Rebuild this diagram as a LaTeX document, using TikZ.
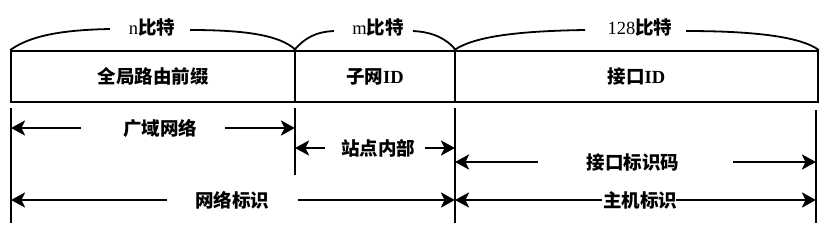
\documentclass[tikz,border=0pt]{standalone}
\usepackage{fontspec}
\setmainfont{Liberation Serif}
\newfontfamily\cjk{Noto Sans CJK SC}
\usetikzlibrary{arrows.meta, positioning}
\newcommand{\zh}[1]{{\cjk\bfseries #1}}
\tikzset{
  field/.style={
    draw, line width=1.8pt, inner sep=0pt,
    minimum height=51pt, font=\fontsize{18.5}{20}\selectfont
  },
  lab/.style={inner sep=0pt, font=\fontsize{18.5}{20}\selectfont},
  brace/.style={line width=1.8pt},
  bar/.style={line width=2.6pt},
  dim/.style={-{Stealth[length=14pt,width=15pt,inset=3.5pt]}, line width=2.6pt},
}

\begin{document}
\begin{tikzpicture}[x=1pt, y=-1pt]
  \useasboundingbox (0,0) rectangle (838,239);

  % ============ ADDRESS FIELDS ============
  \node[field, minimum width=284pt] (prefix) at (153,76.5) {\zh{全局路由前缀}};
  \node[field, minimum width=160pt] (subnet) at (375,76.5) {\zh{子网}\textbf{ID}};
  \node[field, minimum width=363pt] (iface)  at (636.5,76.5) {\zh{接口}\textbf{ID}};

  % ============ BIT WIDTHS (braces) ============
  \node[lab] (nbit)   at (152,27) {n\zh{比特}};
  \node[lab] (mbit)   at (378,27) {m\zh{比特}};
  \node[lab] (allbit) at (640,27) {128\zh{比特}};

  \draw[brace] (prefix.north west) .. controls (30,36) and (60,30) .. (110,29);
  \draw[brace] (190,30) .. controls (245,30) and (280,35) .. (prefix.north east);
  \draw[brace] (subnet.north west) .. controls (305,38) and (315,32) .. (334,31);
  \draw[brace] (413,31) .. controls (432,32) and (446,38) .. (subnet.north east);
  \draw[brace] (iface.north west) .. controls (475,36) and (520,31) .. (585,30);
  \draw[brace] (686,31) .. controls (750,31) and (800,36) .. (iface.north east);

  % ============ BOUNDARY BARS ============
  \coordinate (b0t) at (11,108);  \coordinate (b0b) at (11,223);
  \coordinate (b1t) at (295,108); \coordinate (b1b) at (295,175);
  \coordinate (b2t) at (455,108); \coordinate (b2b) at (455,223);
  \coordinate (b3t) at (816,110); \coordinate (b3b) at (816,223);
  \foreach \a/\b in {b0t/b0b, b1t/b1b, b2t/b2b, b3t/b3b} {
    \draw[bar] (\a) -- (\b);
  }

  % ============ SCOPES (arrows) ============
  \node[lab] (wan)  at (160,128) {\zh{广域网络}};
  \node[lab] (site) at (378,148) {\zh{站点内部}};
  \node[lab] (ifc)  at (633,162) {\zh{接口标识码}};
  \node[lab] (net)  at (232,200) {\zh{网络标识}};
  \node[lab] (host) at (640,200) {\zh{主机标识}};

  % free ends of the arrow shafts
  \coordinate (wanL) at (81,128);  \coordinate (wanR) at (225,128);
  \coordinate (siteL) at (325,148); \coordinate (siteR) at (425,148);
  \coordinate (ifcL) at (538,162); \coordinate (ifcR) at (733,162);
  \coordinate (netL) at (167,200); \coordinate (netR) at (298,200);
  \coordinate (hostL) at (602,200); \coordinate (hostR) at (676,200);

  \draw[dim] (wanL) -- (b0t |- wan);
  \draw[dim] (wanR) -- (b1t |- wan);
  \draw[dim] (siteL) -- (b1t |- site);
  \draw[dim] (siteR) -- (b2t |- site);
  \draw[dim] (ifcL) -- (b2t |- ifc);
  \draw[dim] (ifcR) -- (b3t |- ifc);
  \draw[dim] (netL) -- (b0t |- net);
  \draw[dim] (netR) -- (b2t |- net);
  \draw[dim] (hostL) -- (b2t |- host);
  \draw[dim] (hostR) -- (b3t |- host);

\end{tikzpicture}
\end{document}
